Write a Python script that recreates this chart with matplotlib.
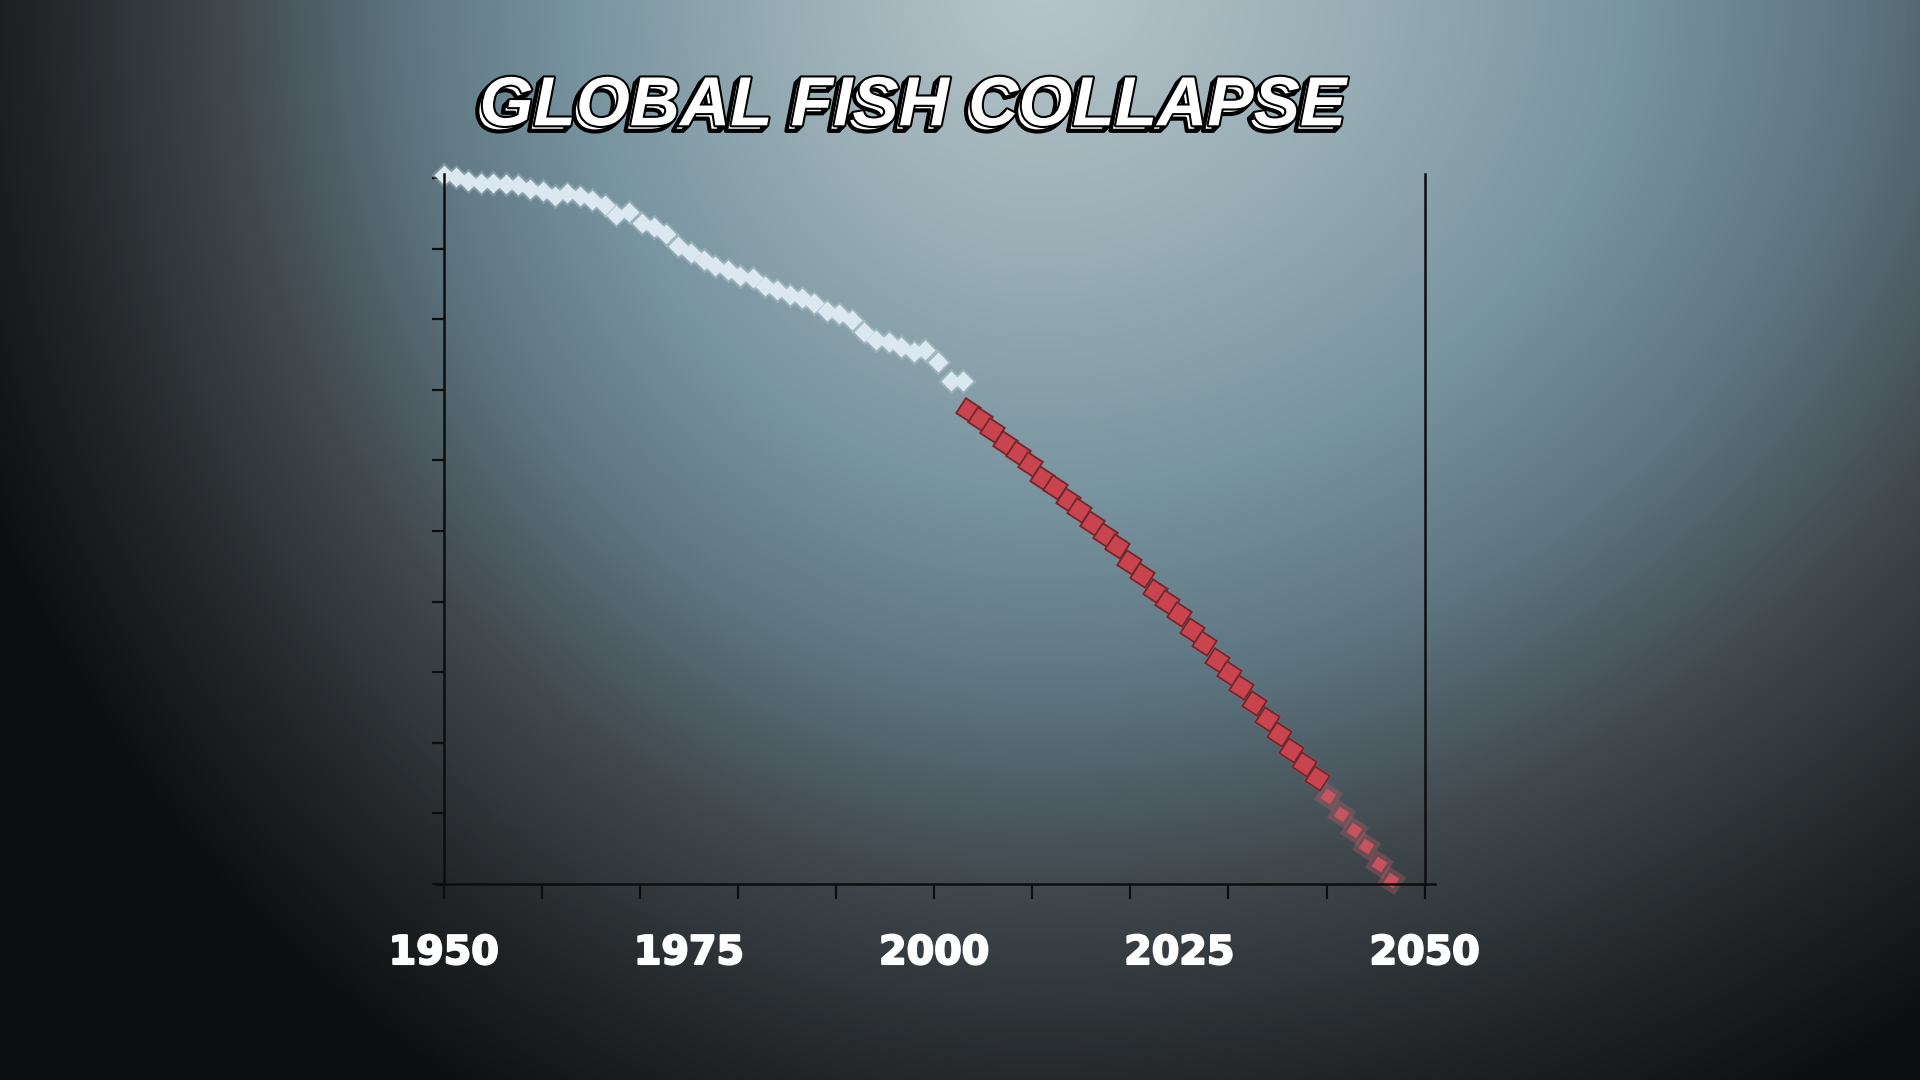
import numpy as np
import matplotlib.pyplot as plt
from matplotlib import patheffects as pe
from matplotlib.colors import LinearSegmentedColormap
from matplotlib.transforms import blended_transform_factory

# observed stock (white diamonds), % of 1950 level
years_obs = [1950.0, 1951.3, 1952.5, 1953.8, 1955.0, 1956.3, 1957.6, 1958.8, 1960.1,
             1961.3, 1962.6, 1963.9, 1965.1, 1966.4, 1967.6, 1968.9, 1970.2, 1971.4,
             1972.7, 1973.9, 1975.2, 1976.5, 1977.7, 1979.0, 1980.2, 1981.5, 1982.8,
             1984.0, 1985.3, 1986.5, 1987.8, 1989.1, 1990.3, 1991.6, 1992.8, 1994.1,
             1995.4, 1996.6, 1997.9, 1999.1, 2000.4, 2001.7, 2002.9]
stock_obs = [100.4, 100.2, 99.5, 99.3, 99.3, 99.2, 99.0, 98.5, 98.1,
             97.4, 97.8, 97.4, 96.9, 96.2, 94.8, 95.2, 93.6, 93.1,
             92.0, 90.3, 89.4, 88.4, 87.5, 87.0, 86.1, 85.9, 84.7,
             84.1, 83.4, 83.0, 82.3, 81.1, 80.8, 79.9, 78.2, 77.1,
             76.8, 76.1, 75.4, 75.6, 74.0, 71.2, 71.2]

# projected collapse (red squares)
years_proj = [2003.4, 2004.7, 2005.9, 2007.2, 2008.5, 2009.8, 2011.0, 2012.3, 2013.6,
              2014.8, 2016.1, 2017.4, 2018.6, 2019.9, 2021.2, 2022.5, 2023.7, 2025.0,
              2026.3, 2027.5, 2028.8, 2030.1, 2031.3, 2032.6, 2033.9, 2035.2, 2036.4,
              2037.7, 2039.0, 2040.2, 2041.5, 2042.8, 2044.0, 2045.3, 2046.6]
stock_proj = [67.1, 65.8, 64.3, 62.5, 61.0, 59.5, 57.5, 56.2, 54.4,
              52.9, 51.1, 49.4, 47.9, 45.6, 43.8, 41.5, 40.0, 38.3,
              36.0, 34.2, 31.7, 29.9, 27.9, 25.6, 23.3, 21.3, 19.0,
              17.0, 15.0, 12.5, 9.9, 7.6, 5.4, 2.8, 0.6]

label_years = [1950, 1975, 2000, 2025, 2050]
tick_years = [1950, 1960, 1970, 1980, 1990, 2000, 2010, 2020, 2030, 2040, 2050]
y_ticks = [0, 10, 20, 30, 40, 50, 60, 70, 80, 90, 100]

fig = plt.figure(figsize=(19.2, 10.8), dpi=100)

# background vignette, brightest near the top centre
bg = fig.add_axes([0, 0, 1, 1], zorder=-5)
yy, xx = np.mgrid[0:1:540j, 0:1:960j]
cx, cy = 0.54, -0.02
rx = np.where(xx < cx, 0.50, 0.65)
d = np.sqrt(((xx - cx) / rx) ** 2 + ((yy - cy) / 1.0) ** 2) / 1.2
bg_cmap = LinearSegmentedColormap.from_list(
    'bg', [(0, '#b8c6ca'), (0.22, '#98adb5'), (0.4, '#7894a0'), (0.55, '#5d7580'),
           (0.7, '#41494e'), (0.85, '#25292c'), (1, '#0d0e0f')])
bg.imshow(np.clip(d, 0, 1), cmap=bg_cmap, vmin=0, vmax=1, aspect='auto',
          extent=[0, 1, 0, 1], origin='upper', interpolation='bilinear')
bg.axis('off')

ax = fig.add_axes([0.2265, 0.1815, 0.5211, 0.657])
ax.set_facecolor('none')
ax.set_xlim(1949.1, 2051.1)
ax.set_ylim(0, 100.5)

# white observed points with soft glow
ax.plot(years_obs, stock_obs, 'D', ms=13.5, color='#e6f0f6', alpha=0.22, mec='none', clip_on=False)
ax.plot(years_obs, stock_obs, 'D', ms=10.5, color='#dce8ef', mec='none', clip_on=False)

# red projection; last few points fade out
n_fade = 6
sq = (4, 0, 12)
ax.plot(years_proj, stock_proj, marker=sq, ls='none', ms=21.5, color='#e0606a',
        alpha=0.28, mec='none', clip_on=False)
ax.plot(years_proj[:-n_fade], stock_proj[:-n_fade], marker=sq, ls='none', ms=18,
        mfc='#c9444e', mec='#6b2a2f', mew=1.3, clip_on=False)
ax.plot(years_proj[-n_fade:], stock_proj[-n_fade:], marker=sq, ls='none', ms=11.5,
        color='#de5563', alpha=0.8, mec='none', clip_on=False)

# axes styling
ax.spines['top'].set_visible(False)
for s in ['left', 'right', 'bottom']:
    ax.spines[s].set_color('#0d0d0d')
    ax.spines[s].set_linewidth(1.8)
ax.spines['left'].set_position(('data', 1950))
ax.spines['right'].set_position(('data', 2050))

ax.set_xticks(tick_years)
ax.set_xticklabels([])
ax.set_yticks(y_ticks)
ax.set_yticklabels([])
ax.tick_params(axis='x', direction='out', length=11, width=1.6, color='#0d0d0d')
ax.tick_params(axis='y', direction='out', length=8.5, width=1.6, color='#0d0d0d')

trans = blended_transform_factory(ax.transData, fig.transFigure)
for yr in label_years:
    ax.text(yr, 0.1074, str(yr), transform=trans, ha='center', va='baseline',
            fontsize=28.5, fontweight='bold', family='DejaVu Sans', color='white',
            path_effects=[pe.Stroke(linewidth=1.5, foreground='white'), pe.Normal()])

# comic-style title with black extrusion
shadow = [pe.Stroke(offset=(-k, -k), linewidth=3, foreground='black') for k in (1, 2, 3, 4)]
fig.text(0.4757, 0.884, 'GLOBAL FISH COLLAPSE', ha='center', va='baseline',
         fontsize=50, fontweight='bold', style='italic',
         family=['Liberation Sans', 'DejaVu Sans'], color='white',
         path_effects=shadow + [pe.Stroke(linewidth=3, foreground='black'), pe.Normal()])

fig.savefig('out.png', dpi=100)
